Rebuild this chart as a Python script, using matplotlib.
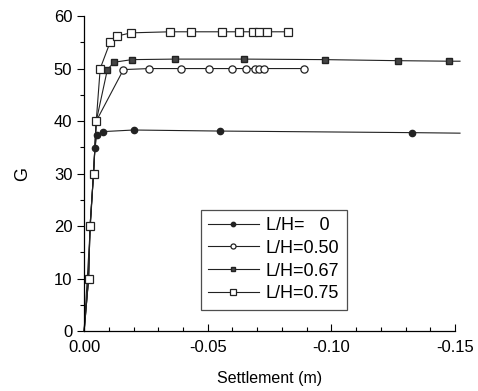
import numpy as np
import matplotlib
matplotlib.use("Agg")
import matplotlib.pyplot as plt
from matplotlib.ticker import MultipleLocator, FormatStrFormatter

plt.rcParams['font.family'] = ['Liberation Sans', 'DejaVu Sans']

# L/H = 0 (filled circles); last point only extends the line
s0 = [0.0, -0.0044, -0.0051, -0.0078, -0.020, -0.055, -0.1325, -0.152]
g0 = [0.0, 34.9, 37.3, 38.0, 38.3, 38.1, 37.8, 37.7]

# L/H = 0.50 (open circles), shares the first part of the 0.75 path
s50 = [0.0, -0.0018, -0.0024, -0.0038, -0.0049, -0.0159, -0.0263, -0.039,
       -0.0505, -0.0597, -0.0655, -0.0689, -0.0709, -0.0728, -0.089]
g50 = [0.0, 10, 20, 30, 40, 49.8, 50.0, 50.0, 50.0, 50.0, 50.0, 50.0, 50.0, 50.0, 50.0]

# L/H = 0.67 (filled squares)
s67 = [0.0, -0.0018, -0.0024, -0.0038, -0.0049, -0.0094, -0.0121, -0.0193,
       -0.0368, -0.0648, -0.0975, -0.1268, -0.1477, -0.152]
g67 = [0.0, 10, 20, 30, 40, 49.8, 51.2, 51.7, 51.8, 51.8, 51.7, 51.5, 51.4, 51.4]

# L/H = 0.75 (open squares)
s75 = [0.0, -0.0018, -0.0024, -0.0038, -0.0049, -0.0065, -0.0105, -0.0134,
       -0.019, -0.0348, -0.0431, -0.0557, -0.0628, -0.0682, -0.0709, -0.0739, -0.0826]
g75 = [0.0, 10, 20, 30, 40, 50, 55, 56.2, 56.8, 57, 57, 57, 57, 57, 57, 57, 57]

fig = plt.figure(figsize=(4.78, 3.91), dpi=100)
ax = fig.add_axes([0.176, 0.153, 0.776, 0.806])

lw = 0.8
c = '#222222'
ax.plot(s0, g0, '-', color=c, lw=lw, marker='o', ms=4.5, mfc=c, mec=c,
        markevery=list(range(1, len(s0) - 1)), clip_on=False, label='L/H=   0')
ax.plot(s50, g50, '-', color=c, lw=lw, marker='o', ms=5.2, mfc='white', mec=c, mew=0.9,
        markevery=list(range(5, len(s50))), clip_on=False, label='L/H=0.50')
ax.plot(s67, g67, '-', color=c, lw=lw, marker='s', ms=4.5, mfc='#444444', mec=c,
        markevery=list(range(5, len(s67) - 1)), clip_on=False, label='L/H=0.67')
ax.plot(s75, g75, '-', color=c, lw=lw, marker='s', ms=5.2, mfc='white', mec=c, mew=0.9,
        markevery=list(range(1, len(s75))), clip_on=False, label='L/H=0.75')

ax.set_xlim(0, -0.15)
ax.set_ylim(0, 60)
ax.xaxis.set_major_locator(MultipleLocator(0.05))
ax.xaxis.set_minor_locator(MultipleLocator(0.01))
ax.xaxis.set_major_formatter(FormatStrFormatter('%.2f'))
ax.yaxis.set_major_locator(MultipleLocator(10))
ax.yaxis.set_minor_locator(MultipleLocator(5))
ax.tick_params(axis='x', which='both', direction='in', labelsize=12, pad=6)
ax.tick_params(axis='y', which='both', direction='out', labelsize=12)
ax.tick_params(which='major', length=5, width=0.8)
ax.tick_params(which='minor', length=3, width=0.8)
for sp in ['top', 'right']:
    ax.spines[sp].set_visible(False)
for sp in ['left', 'bottom']:
    ax.spines[sp].set_linewidth(0.9)

ax.set_xlabel('Settlement (m)', fontsize=11.5, labelpad=12)
ax.set_ylabel('G', fontsize=13, labelpad=16)

leg = ax.legend(loc='lower left', bbox_to_anchor=(0.29, 0.04), fontsize=13,
                frameon=True, fancybox=False, edgecolor='#222222',
                handlelength=2.8, handletextpad=0.4, labelspacing=0.32,
                borderpad=0.4, markerscale=0.7)
leg.get_frame().set_linewidth(0.9)

fig.savefig('out.png', dpi=100)
